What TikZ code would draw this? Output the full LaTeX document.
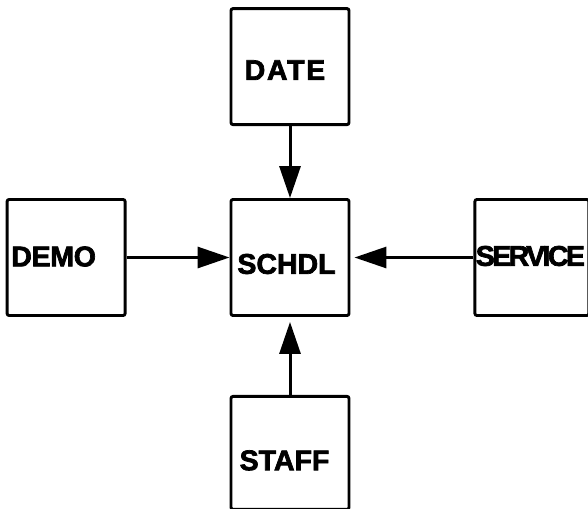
\documentclass[tikz,border=0pt]{standalone}
\usepackage{fontspec}
\setmainfont{Liberation Sans}[BoldFeatures={FakeBold=2.4}]
\usepackage{tikz}
\usetikzlibrary{positioning, arrows.meta}

\begin{document}
\begin{tikzpicture}[x=1pt, y=1pt,
  blk/.style={draw, line width=2.9pt, rounded corners=2pt, inner sep=0pt, minimum width=118pt, minimum height=116pt},
  txt/.style={inner sep=0pt, font=\fontsize{28.5}{32}\selectfont\bfseries\addfontfeature{LetterSpace=#1}},
  txt/.default=0,
  flow/.style={line width=3pt, -{Triangle[length=32pt, width=21pt]}}]
\useasboundingbox (0,0) rectangle (588,-508);
\node[blk] (schdl) at (290,-257.5) {};
\node[blk, above=72pt of schdl] (date) {};
\node[blk, left=103pt of schdl] (demo) {};
\node[blk, right=123pt of schdl, minimum width=114pt] (service) {};
\node[blk, below=78pt of schdl, minimum height=113pt] (staff) {};
% labels
\node[txt, xshift=-3.5pt, yshift=-6.5pt] (schdl-t) at (schdl) {SCHDL};
\node[txt=6, xshift=-5pt, yshift=-3.5pt] (date-t) at (date) {DATE};
\node[txt=-1, xshift=-12.5pt, yshift=1pt] (demo-t) at (demo) {DEMO};
\node[txt=-9, xshift=-1.5pt, yshift=1.5pt] (service-t) at (service) {SERVICE};
\node[txt, xshift=-5.5pt, yshift=-7.5pt] (staff-t) at (staff) {STAFF};
% arrows
\draw[flow] (date) -- (schdl);
\draw[flow] (demo) -- (schdl);
\draw[flow, shorten >=4pt] (service) -- (schdl);
\draw[flow, shorten >=5pt] (staff) -- (schdl);
\end{tikzpicture}
\end{document}
